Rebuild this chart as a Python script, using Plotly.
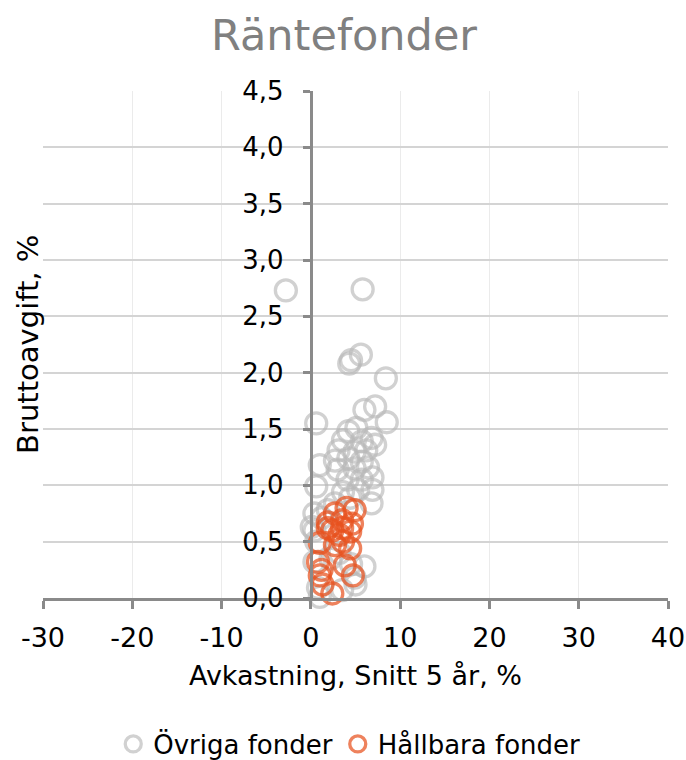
import plotly.graph_objects as go

# ── Data ──────────────────────────────────────────────────────────────────────

ovriga_x = [-2.8, 5.8, 4.3, 4.5, 5.6, 8.4,
            0.6, 6.0, 7.2, 8.5, 4.2, 5.1, 6.8, 3.6, 5.7, 3.1, 4.9, 6.2, 7.2, 4.2, 5.7, 1.0, 2.7,
            0.6, 3.0, 4.9, 6.4, 4.1, 5.7, 6.9, 3.6, 5.3, 6.9, 6.8, 4.4, 2.7, 0.4, 1.2, 0.1, 1.9,
            0.4, 0.6, 0.4, 6.0, 4.9, 0.8, 1.0, 3.5, 5.0, 3.2, 2.2, 4.5]
ovriga_y = [2.73, 2.74, 2.08, 2.11, 2.16, 1.95,
            1.55, 1.67, 1.70, 1.56, 1.48, 1.51, 1.42, 1.40, 1.39, 1.31, 1.30, 1.31, 1.36, 1.24, 1.21, 1.18, 1.22,
            0.99, 1.14, 1.15, 1.16, 1.05, 1.05, 1.07, 0.94, 0.96, 0.96, 0.84, 0.89, 0.84, 0.75, 0.71, 0.63, 0.78,
            0.60, 0.50, 0.32, 0.28, 0.18, 0.09, 0.01, 0.07, 0.12, 0.40, 0.35, 0.30]

hallbara_x = [4.0, 4.9, 2.7, 1.9, 3.5, 4.6, 1.9, 2.4, 3.5, 4.4, 3.6,
              1.0, 0.8, 1.0, 3.8, 4.7, 1.3, 2.4, 1.2, 2.7, 4.4, 3.2]
hallbara_y = [0.80, 0.78, 0.75, 0.67, 0.69, 0.66, 0.62, 0.60, 0.62, 0.59, 0.50,
              0.49, 0.32, 0.20, 0.29, 0.20, 0.12, 0.04, 0.25, 0.47, 0.44, 0.56]

x_ticks = [-30, -20, -10, 0, 10, 20, 30, 40]
x_ticktext = ["-30", "-20", "-10", "0", "10", "20", "30", "40"]

FONT = "DejaVu Sans, Verdana, sans-serif"
AXIS_GREY = "#8a8a8a"

fig = go.Figure()

fig.add_trace(go.Scatter(
    x=ovriga_x, y=ovriga_y,
    mode="markers",
    name="Övriga fonder",
    cliponaxis=False,
    marker=dict(size=21, color="rgba(0,0,0,0)",
                line=dict(color="rgba(185,185,185,0.65)", width=3.3)),
))

fig.add_trace(go.Scatter(
    x=hallbara_x, y=hallbara_y,
    mode="markers",
    name="Hållbara fonder",
    cliponaxis=False,
    marker=dict(size=21, color="rgba(0,0,0,0)",
                line=dict(color="rgba(232,82,30,0.72)", width=3.3)),
))

fig.update_layout(
    width=686, height=760,
    paper_bgcolor="white", plot_bgcolor="white",
    font=dict(family=FONT, size=27, color="black"),
    separators=", ",
    title=dict(text="Räntefonder", x=0.5015, xanchor="center", y=0.954, yanchor="middle",
               font=dict(family=FONT, size=43, color="#808080")),
    margin=dict(l=43, r=18, t=91, b=162, autoexpand=False),
    showlegend=True,
    legend=dict(orientation="h", x=0.49, xanchor="center", y=-0.288, yanchor="middle",
                font=dict(size=26), itemwidth=30),
    xaxis=dict(
        range=[-30, 40], domain=[0, 1], automargin=False,
        tickvals=x_ticks, ticktext=x_ticktext,
        showgrid=True, gridcolor="#ebebeb", gridwidth=1,
        zeroline=False,
        showline=True, linecolor=AXIS_GREY, linewidth=3,
        ticks="outside", ticklen=8, tickwidth=3, tickcolor=AXIS_GREY,
        ticklabelstandoff=6,
        tickfont=dict(size=27),
    ),
    yaxis=dict(
        range=[0, 4.5], dtick=0.5, tickformat=".1f", automargin=False,
        anchor="free", position=30 / 70,
        showgrid=True, gridcolor="#d4d4d4", gridwidth=1.5,
        zeroline=False,
        showline=True, linecolor=AXIS_GREY, linewidth=3,
        ticks="outside", ticklen=7, tickwidth=3, tickcolor=AXIS_GREY,
        ticklabelstandoff=14,
        tickfont=dict(size=26),
    ),
)

# axis titles
fig.add_annotation(text="Bruttoavgift, %", xref="paper", yref="paper",
                   x=-0.025, y=0.5, xanchor="center", yanchor="middle",
                   textangle=-90, showarrow=False, font=dict(size=29))
fig.add_annotation(text="Avkastning, Snitt 5 år, %", xref="paper", yref="paper",
                   x=0.5, y=-0.152, xanchor="center", yanchor="middle",
                   showarrow=False, font=dict(size=27))

# drop the default 8px body margin so the figure fills the window exactly
fig.write_html("out.html",
               config={"displayModeBar": False},
               post_script="document.body.style.margin='0';document.body.style.overflow='hidden';")
